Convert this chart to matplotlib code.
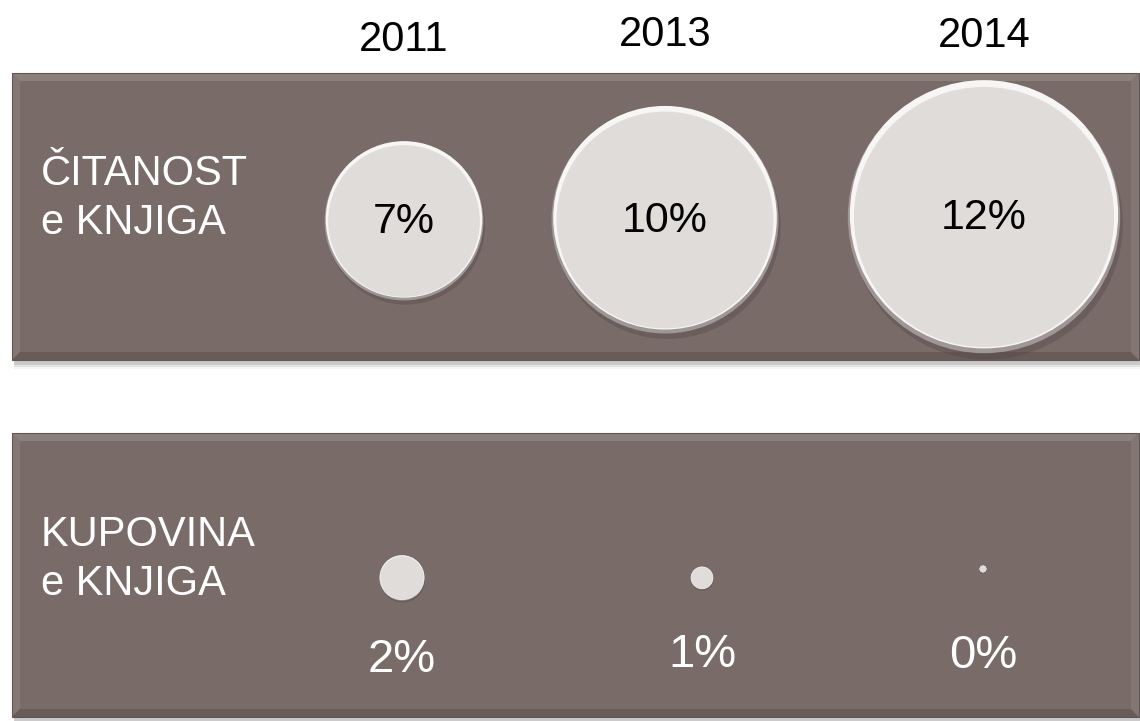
import matplotlib.pyplot as plt
from matplotlib.patches import Rectangle, Circle, Polygon

plt.rcParams['font.family'] = ['Liberation Sans', 'DejaVu Sans']

# data
years = ['2011', '2013', '2014']
citanost = [7, 10, 12]      # % čitanost knjiga
kupovina = [2, 1, 0]        # % kupovina knjiga
row_labels = [['ČITANOST', 'e KNJIGA'], ['KUPOVINA', 'e KNJIGA']]

# layout (pixel coords, y downwards)
W, H = 1140, 721
top_x = [404, 665, 984]
top_y = [221, 220, 217]
bot_x = [402, 702, 983]
bot_y = [578, 578, 569]
year_base = [51, 46, 47]
bot_lab_y = [660, 655, 656]
px_per_pct = 11.35
panel_col = '#796b68'
bubble_col = '#e0dcda'

fig = plt.figure(figsize=(W / 100, H / 100), dpi=100)
ax = fig.add_axes([0, 0, 1, 1])
ax.set_xlim(0, W)
ax.set_ylim(H, 0)
ax.axis('off')


def panel(x0, y0, x1, y1):
    # soft shadow under the panel
    for i, a in enumerate([0.10, 0.07, 0.04]):
        ax.add_patch(Rectangle((x0 + 2, y0 + 3 + i), x1 - x0, y1 - y0 + 2 + i,
                               color='#000000', alpha=a, lw=0, zorder=1))
    ax.add_patch(Rectangle((x0, y0), x1 - x0, y1 - y0, color=panel_col, lw=0, zorder=2))
    b = 8
    # bevel edges
    ax.add_patch(Polygon([(x0, y0), (x1, y0), (x1 - b, y0 + b), (x0 + b, y0 + b)],
                         color='#8c807d', lw=0, zorder=3))
    ax.add_patch(Polygon([(x0, y0), (x0 + b, y0 + b), (x0 + b, y1 - b), (x0, y1)],
                         color='#847875', lw=0, zorder=3))
    ax.add_patch(Polygon([(x0, y1), (x0 + b, y1 - b), (x1 - b, y1 - b), (x1, y1)],
                         color='#685c59', lw=0, zorder=3))
    ax.add_patch(Polygon([(x1, y0), (x1 - b, y0 + b), (x1 - b, y1 - b), (x1, y1)],
                         color='#837774', lw=0, zorder=3))
    ax.add_patch(Rectangle((x0, y0), x1 - x0, y1 - y0, fill=False,
                           ec='#635755', lw=0.8, zorder=4))


def bubble(cx, cy, r):
    r = max(r, 3.5)
    # drop shadow
    ax.add_patch(Circle((cx + r * 0.02, cy + r * 0.04 + 1), r, color='#4a3f3d',
                        alpha=0.30, lw=0, zorder=5))
    # dark lower rim
    ax.add_patch(Circle((cx, cy), r, color='#9e9795', lw=0, zorder=6))
    # bright upper rim
    ax.add_patch(Circle((cx, cy - r * 0.02), r * 0.985, color='#f7f6f5', lw=0, zorder=7))
    # face
    ax.add_patch(Circle((cx, cy), r * 0.955, color=bubble_col, lw=0, zorder=8))


panel(12, 73, 1139, 360)
panel(12, 433, 1139, 717)

for x, y, v in zip(top_x, top_y, citanost):
    bubble(x, y, v * px_per_pct)
    ax.text(x, y + 1, f'{v}%', ha='center', va='center', fontsize=31,
            color='black', zorder=10)

for x, yb, yr in zip(top_x, year_base, years):
    ax.text(x, yb, yr, ha='center', va='baseline', fontsize=30, color='black')

for x, y, ly, v in zip(bot_x, bot_y, bot_lab_y, kupovina):
    bubble(x, y, v * px_per_pct)
    ax.text(x, ly, f'{v}%', ha='center', va='center', fontsize=34,
            color='white', zorder=10)

for lines, base in zip(row_labels, [185, 546]):
    for i, s in enumerate(lines):
        ax.text(41, base + 49 * i, s, ha='left', va='baseline', fontsize=30,
                color='white', zorder=10)

fig.savefig('out.png', dpi=100)
